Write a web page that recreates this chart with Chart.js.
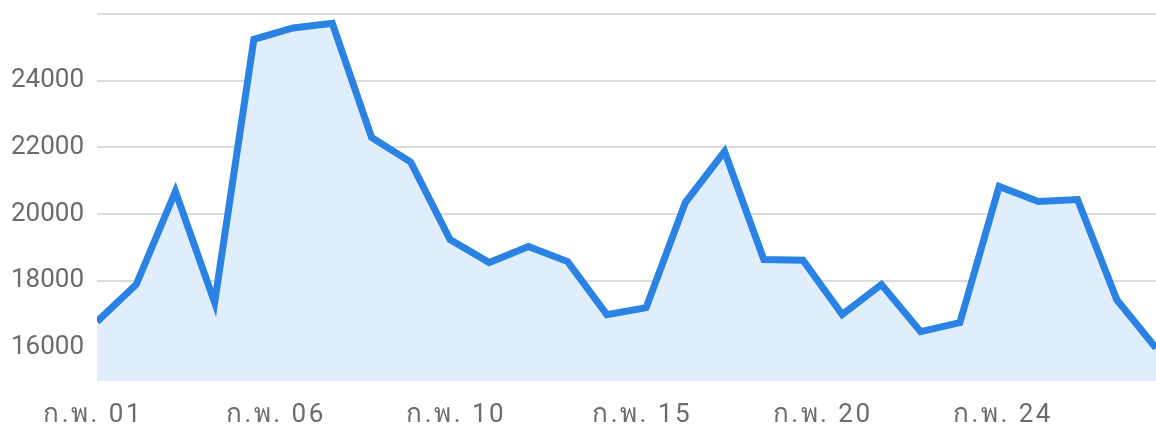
<!DOCTYPE html>
<html>
<head>
<meta charset="utf-8">
<script src="https://cdn.jsdelivr.net/npm/chart.js@4"></script>
<style>
  html, body { margin: 0; padding: 0; background: #fff; }
  #wrap { width: 1156px; height: 430px; }
</style>
</head>
<body>
<div id="wrap"><canvas id="salesChart" width="1156" height="430"></canvas></div>
<script>
// daily values for February (day 1..28)
const days = [1, 2, 3, 4, 5, 6, 7, 8, 9, 10, 11, 12, 13, 14, 15, 16, 17, 18, 19, 20, 21, 22, 23, 24, 25, 26, 27, 28];
const values = [16780, 17890, 20680, 17350, 25240, 25580, 25720, 22300, 21560, 19240, 18550, 19030, 18580, 16990,
  17200, 20350, 21880, 18640, 18620, 16990, 17890, 16480, 16750, 20830, 20380, 20440, 17440, 15990];

// x tick labels and where they sit along the day axis
const xTickLabels = ["ก.พ. 01", "ก.พ. 06", "ก.พ. 10", "ก.พ. 15", "ก.พ. 20", "ก.พ. 24"];
const xTickPos = [0.9, 5.56, 10.16, 14.9, 19.5, 24.1];

const yTicks = [16000, 18000, 20000, 22000, 24000, 26000];

const ctx = document.getElementById("salesChart");
new Chart(ctx, {
  type: "line",
  data: {
    datasets: [
      {
        data: days.map((d, i) => ({ x: d, y: values[i] })),
        borderColor: "#2a82e4",
        backgroundColor: "#e0edfc",
        borderWidth: 7,
        fill: "start",
        pointRadius: 0,
        tension: 0,
      },
    ],
  },
  options: {
    responsive: false,
    animation: false,
    layout: { padding: { top: 14, right: 0, left: 0, bottom: 0 } },
    plugins: { legend: { display: false }, tooltip: { enabled: false } },
    scales: {
      x: {
        type: "linear",
        min: 1,
        max: 28,
        grid: { display: false, drawTicks: false },
        border: { display: false },
        afterBuildTicks: (scale) => {
          scale.ticks = xTickPos.map((v) => ({ value: v }));
        },
        afterFit: (scale) => {
          scale.height = 49;
          scale.paddingLeft = 0;
          scale.paddingRight = 0;
          // the thai labels in the original are widely spaced
          if (!scale._spaced) {
            const orig = scale.drawLabels;
            scale.drawLabels = function (area) {
              const c = this.ctx;
              c.save();
              c.letterSpacing = "2.5px";
              orig.call(this, area);
              c.restore();
            };
            scale._spaced = true;
          }
        },
        ticks: {
          autoSkip: false,
          maxRotation: 0,
          padding: 19,
          color: "#6b6b6b",
          font: { family: "Roboto", size: 26 },
          callback: (value, index) => xTickLabels[index],
        },
      },
      y: {
        min: 15000,
        max: 26000,
        grid: { color: "#dcdcdc", lineWidth: 2, drawTicks: false },
        border: { display: false },
        afterBuildTicks: (scale) => {
          scale.ticks = yTicks.map((v) => ({ value: v }));
        },
        afterFit: (scale) => {
          scale.width = 97;
          scale.paddingTop = 0;
          scale.paddingBottom = 0;
        },
        ticks: {
          padding: 13,
          color: "#6b6b6b",
          font: { family: "Roboto", size: 26 },
          callback: (value) => (value === 26000 ? "" : value),
        },
      },
    },
  },
});
</script>
</body>
</html>
